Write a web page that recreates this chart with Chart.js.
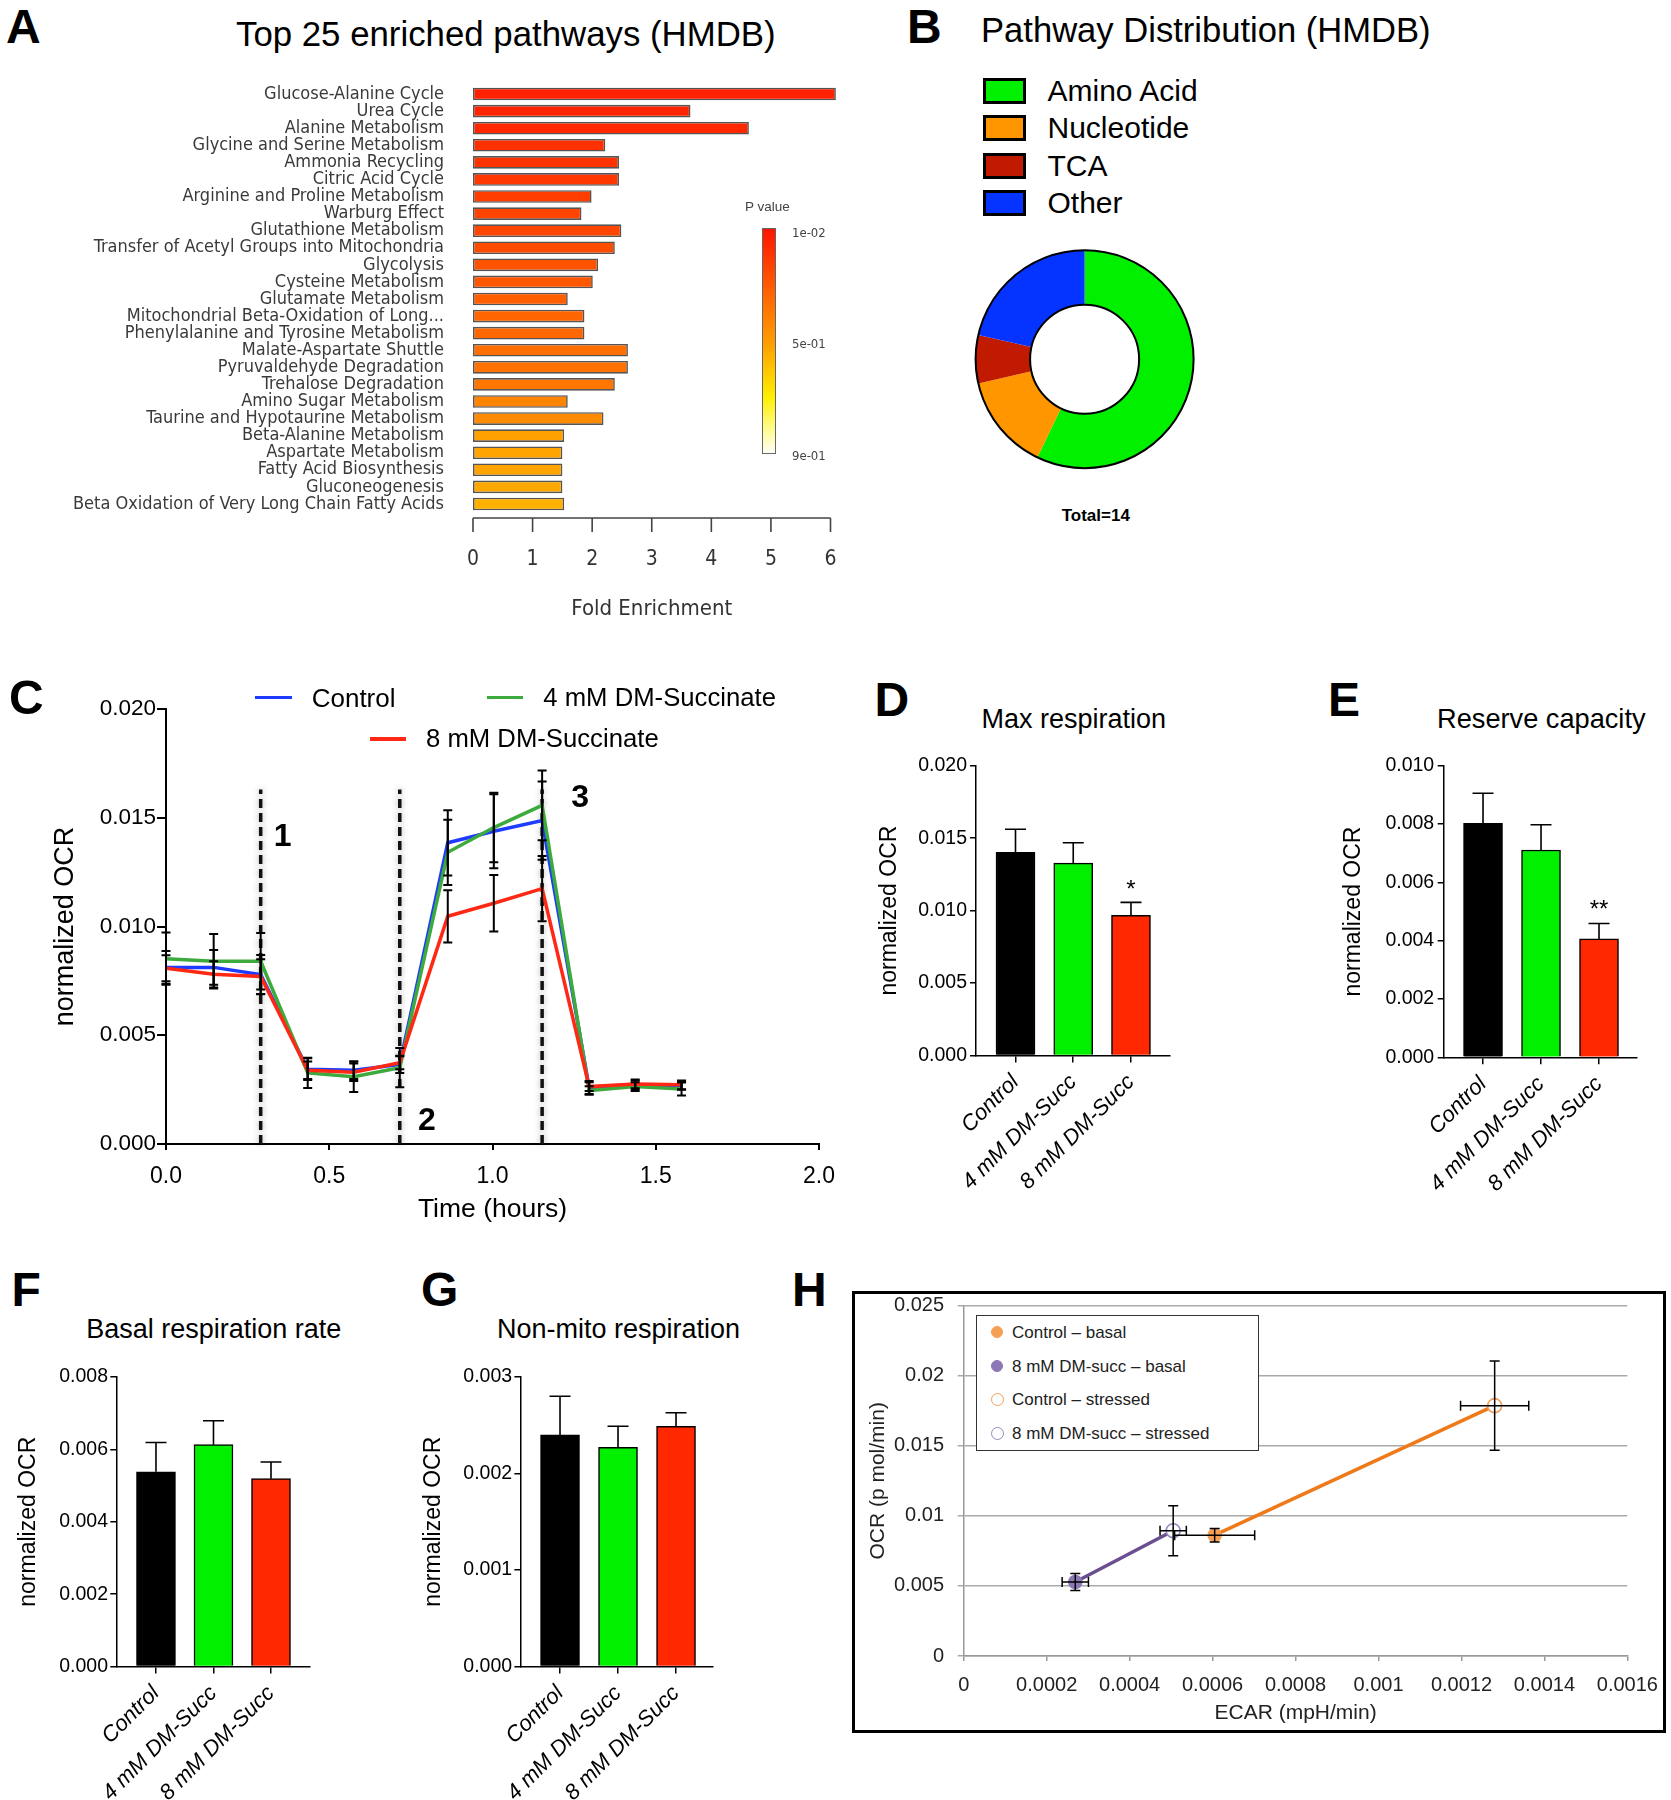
<!DOCTYPE html>
<html>
<head>
<meta charset="utf-8">
<script src="https://cdn.jsdelivr.net/npm/chart.js@4.4.1/dist/chart.umd.min.js"></script>
<style>
  html, body { margin: 0; padding: 0; background: #fff; }
  #page { position: relative; width: 1671px; height: 1800px; overflow: hidden; font-family: 'Liberation Sans', Arial, sans-serif; color: #000; }
  #page canvas { position: absolute; }
  .txt { position: absolute; white-space: nowrap; line-height: 1; }
</style>
</head>
<body>
<div id="page">
  <canvas id="chartA" width="860" height="570" style="left:0;top:60px"></canvas>
  <canvas id="chartB" width="250" height="250" style="left:960px;top:235px"></canvas>
  <canvas id="chartC" width="850" height="560" style="left:0;top:680px"></canvas>
  <canvas id="chartD" width="330" height="490" style="left:870px;top:740px"></canvas>
  <canvas id="chartE" width="333" height="490" style="left:1338px;top:740px"></canvas>
  <canvas id="chartF" width="350" height="450" style="left:0;top:1350px"></canvas>
  <canvas id="chartG" width="340" height="450" style="left:400px;top:1350px"></canvas>
  <div id="boxH" style="position:absolute;left:852px;top:1291px;width:814px;height:442px;border:3px solid #000;box-sizing:border-box"></div>
  <canvas id="chartH" width="808" height="436" style="left:855px;top:1294px"></canvas>
</div>
<script>
// ---- panel A: top 25 pathways ----
const pathwayNames = [
  'Glucose-Alanine Cycle', 'Urea Cycle', 'Alanine Metabolism', 'Glycine and Serine Metabolism',
  'Ammonia Recycling', 'Citric Acid Cycle', 'Arginine and Proline Metabolism', 'Warburg Effect',
  'Glutathione Metabolism', 'Transfer of Acetyl Groups into Mitochondria', 'Glycolysis',
  'Cysteine Metabolism', 'Glutamate Metabolism', 'Mitochondrial Beta-Oxidation of Long...',
  'Phenylalanine and Tyrosine Metabolism', 'Malate-Aspartate Shuttle', 'Pyruvaldehyde Degradation',
  'Trehalose Degradation', 'Amino Sugar Metabolism', 'Taurine and Hypotaurine Metabolism',
  'Beta-Alanine Metabolism', 'Aspartate Metabolism', 'Fatty Acid Biosynthesis', 'Gluconeogenesis',
  'Beta Oxidation of Very Long Chain Fatty Acids'
];
const foldEnrichment = [6.09, 3.65, 4.63, 2.22, 2.45, 2.45, 1.99, 1.82, 2.49, 2.38, 2.10, 2.01, 1.59,
  1.87, 1.87, 2.60, 2.60, 2.38, 1.59, 2.19, 1.53, 1.50, 1.50, 1.50, 1.53];
const pathwayPValues = [0.05, 0.06, 0.07, 0.10, 0.11, 0.12, 0.14, 0.16, 0.17, 0.19, 0.21, 0.22, 0.25,
  0.27, 0.28, 0.30, 0.31, 0.33, 0.38, 0.40, 0.47, 0.48, 0.48, 0.49, 0.51];
const foldTicks = [0, 1, 2, 3, 4, 5, 6];
const pValueTickLabels = ['1e-02', '5e-01', '9e-01'];

// ---- panel B: pathway classes ----
const classNames = ['Amino Acid', 'Nucleotide', 'TCA', 'Other'];
const classCounts = [8, 2, 1, 3];

// ---- panel C: OCR time course ----
const timeHours = [0, 0.146, 0.29, 0.434, 0.575, 0.716, 0.863, 1.004, 1.152, 1.296, 1.437, 1.579];
const ocrControl = [0.00812, 0.00812, 0.00779, 0.00344, 0.00339, 0.00366, 0.01385, 0.01438, 0.01487, 0.00260, 0.00272, 0.00269];
const ocrControlErr = [0.00075, 0.0008, 0.0009, 0.0005, 0.0004, 0.0004, 0.0015, 0.0017, 0.0018, 0.0003, 0.0002, 0.0002];
const ocr4mM = [0.00852, 0.00840, 0.00840, 0.00327, 0.00309, 0.00351, 0.01341, 0.01455, 0.01557, 0.00246, 0.00264, 0.00253];
const ocr4mMErr = [0.0012, 0.00125, 0.0013, 0.0007, 0.0007, 0.0009, 0.0015, 0.0016, 0.0016, 0.0002, 0.0002, 0.0003];
const ocr8mM = [0.00808, 0.00780, 0.00770, 0.00339, 0.00330, 0.00374, 0.01047, 0.01107, 0.01174, 0.00264, 0.00276, 0.00272];
const ocr8mMErr = [0.0006, 0.0006, 0.0008, 0.0004, 0.0004, 0.0003, 0.0012, 0.0013, 0.0015, 0.0002, 0.0002, 0.0002];
const injectionTimes = [0.29, 0.716, 1.152];
const injectionLabels = ['1', '2', '3'];

// ---- panels D-G: summary bars ----
const groupLabels = ['Control', '4 mM DM-Succ', '8 mM DM-Succ'];
const maxResp = [0.01402, 0.01328, 0.00967];
const maxRespErr = [0.0016, 0.00141, 0.0009];
const reserveCap = [0.00803, 0.00711, 0.00406];
const reserveCapErr = [0.00103, 0.00087, 0.00053];
const basalResp = [0.00538, 0.00613, 0.00519];
const basalRespErr = [0.00081, 0.00066, 0.00046];
const nonMito = [0.00240, 0.00227, 0.00249];
const nonMitoErr = [0.0004, 0.00022, 0.00014];
const maxRespSig = ['', '', '*'];
const reserveCapSig = ['', '', '**'];

// ---- panel H: OCR vs ECAR ----
const energyLabels = ['Control \u2013 basal', '8 mM DM-succ \u2013 basal', 'Control \u2013 stressed', '8 mM DM-succ \u2013 stressed'];
const ecarValues = [0.000605, 0.000269, 0.00128, 0.000505];
const ecarErr = [0.0000965, 0.0000317, 0.0000822, 0.0000317];
const ocrValues = [0.00862, 0.00528, 0.01786, 0.00894];
const ocrErr = [0.00048, 0.0006, 0.00318, 0.00178];

// ---------------------------------------------------------------
Chart.defaults.font.family = "'Liberation Sans', Arial, sans-serif";
Chart.defaults.color = '#000';
const condFont = "'DejaVu Sans Condensed', 'Liberation Sans', sans-serif";
const page = document.getElementById('page');

// fixed axis sizes, so every plot area lands where the original one is
function zeroPad(s) { s.paddingTop = 0; s.paddingBottom = 0; s.paddingLeft = 0; s.paddingRight = 0; }
const fixW = w => s => { s.width = w; zeroPad(s); };
const fixH = h => s => { s.height = h; zeroPad(s); };

function addText(str, x, y, style, anchor) {
  const d = document.createElement('div');
  d.className = 'txt';
  d.textContent = str;
  d.style.left = x + 'px';
  d.style.top = y + 'px';
  Object.assign(d.style, style || {});
  d.style.transform = anchor === 'l' ? 'translate(0,-50%)' : 'translate(-50%,-50%)';
  page.appendChild(d);
  return d;
}

function addBox(x, y, w, h, style) {
  const d = document.createElement('div');
  d.style.position = 'absolute';
  d.style.left = x + 'px';
  d.style.top = y + 'px';
  d.style.width = w + 'px';
  d.style.height = h + 'px';
  d.style.boxSizing = 'border-box';
  Object.assign(d.style, style || {});
  page.appendChild(d);
  return d;
}

// heat colour scale used by panel A (p value -> colour)
const heatStops = [[0, [255, 20, 0]], [0.25, [255, 90, 0]], [0.5, [255, 155, 0]], [0.75, [255, 238, 0]], [0.88, [255, 250, 130]], [1, [255, 255, 245]]];
function heatColor(p) {
  const t = Math.min(1, Math.max(0, (p - 0.01) / 0.89));
  for (let i = 1; i < heatStops.length; i++) {
    if (t <= heatStops[i][0]) {
      const [t0, c0] = heatStops[i - 1];
      const [t1, c1] = heatStops[i];
      const f = (t - t0) / (t1 - t0);
      return 'rgb(' + c0.map((c, k) => Math.round(c + (c1[k] - c) * f)).join(',') + ')';
    }
  }
  return 'rgb(255,255,245)';
}

// error bars (and significance stars) drawn through the chart scales
const errorBarPlugin = {
  id: 'errorBars',
  afterDatasetsDraw(chart) {
    const ctx = chart.ctx;
    chart.data.datasets.forEach((ds, di) => {
      const eb = ds.errorBars;
      if (!eb) return;
      const meta = chart.getDatasetMeta(di);
      const xs = chart.scales[meta.xAxisID];
      const ys = chart.scales[meta.yAxisID];
      const cap = eb.cap || 10;
      ctx.save();
      ctx.strokeStyle = eb.color || '#000';
      ctx.lineWidth = eb.width || 1.5;
      meta.data.forEach((el, i) => {
        const raw = ds.data[i];
        const px = el.x;
        const py = ys.getPixelForValue(raw.y);
        ctx.beginPath();
        if (eb.y) {
          const e = eb.y[i];
          const top = ys.getPixelForValue(raw.y + e);
          const bot = eb.upOnly ? py : ys.getPixelForValue(raw.y - e);
          ctx.moveTo(px, top); ctx.lineTo(px, bot);
          ctx.moveTo(px - cap / 2, top); ctx.lineTo(px + cap / 2, top);
          if (!eb.upOnly) { ctx.moveTo(px - cap / 2, bot); ctx.lineTo(px + cap / 2, bot); }
          if (ds.sigMarks && ds.sigMarks[i]) {
            ctx.fillStyle = '#000';
            ctx.font = "24px 'Liberation Sans', Arial, sans-serif";
            ctx.textAlign = 'center';
            ctx.textBaseline = 'alphabetic';
            ctx.fillText(ds.sigMarks[i], px, top - eb.sigGap);
          }
        }
        if (eb.x) {
          const e = eb.x[i];
          const l = xs.getPixelForValue(raw.x - e);
          const r = xs.getPixelForValue(raw.x + e);
          ctx.moveTo(l, py); ctx.lineTo(r, py);
          ctx.moveTo(l, py - cap / 2); ctx.lineTo(l, py + cap / 2);
          ctx.moveTo(r, py - cap / 2); ctx.lineTo(r, py + cap / 2);
        }
        ctx.stroke();
      });
      ctx.restore();
    });
  }
};

// panel A: axis line drawn a little below the bars, like the original
const offsetAxisPlugin = {
  id: 'offsetAxis',
  afterDraw(chart, args, opts) {
    const xs = chart.scales.x;
    const ctx = chart.ctx;
    const y0 = chart.chartArea.bottom + opts.gap;
    ctx.save();
    ctx.strokeStyle = '#444';
    ctx.lineWidth = 1.6;
    ctx.beginPath();
    ctx.moveTo(xs.getPixelForValue(xs.min), y0);
    ctx.lineTo(xs.getPixelForValue(xs.max), y0);
    xs.ticks.forEach(t => {
      const px = xs.getPixelForValue(t.value);
      ctx.moveTo(px, y0);
      ctx.lineTo(px, y0 + opts.tick);
    });
    ctx.stroke();
    ctx.restore();
  }
};

// panel B: black outline of the ring
const ringOutlinePlugin = {
  id: 'ringOutline',
  afterDatasetsDraw(chart) {
    const arc = chart.getDatasetMeta(0).data[0];
    if (!arc) return;
    const p = arc.getProps(['x', 'y', 'outerRadius', 'innerRadius'], true);
    const ctx = chart.ctx;
    ctx.save();
    ctx.strokeStyle = '#000';
    ctx.lineWidth = 2;
    ctx.beginPath(); ctx.arc(p.x, p.y, p.outerRadius, 0, Math.PI * 2); ctx.stroke();
    ctx.beginPath(); ctx.arc(p.x, p.y, p.innerRadius, 0, Math.PI * 2); ctx.stroke();
    ctx.restore();
  }
};

// panel C: injection markers
const injectionPlugin = {
  id: 'injections',
  beforeDatasetsDraw(chart, args, opts) {
    const xs = chart.scales.x, ys = chart.scales.y, ctx = chart.ctx;
    ctx.save();
    opts.times.forEach((t, i) => {
      const px = xs.getPixelForValue(t);
      ctx.save();
      ctx.shadowColor = 'rgba(0,0,0,0.35)';
      ctx.shadowBlur = 6;
      ctx.strokeStyle = '#111';
      ctx.lineWidth = 3.5;
      ctx.setLineDash([9, 5]);
      ctx.beginPath();
      ctx.moveTo(px, ys.getPixelForValue(0));
      ctx.lineTo(px, ys.getPixelForValue(opts.top));
      ctx.stroke();
      ctx.restore();
      ctx.fillStyle = '#000';
      ctx.font = "bold 32px 'Liberation Sans', Arial, sans-serif";
      ctx.textAlign = 'center';
      ctx.textBaseline = 'middle';
      ctx.fillText(opts.labels[i], px + opts.dx[i], ys.getPixelForValue(opts.labelY[i]));
    });
    ctx.restore();
  }
};

const baseOpts = { responsive: false, animation: false, devicePixelRatio: 1, events: [] };

// ================= Panel A =================
new Chart(document.getElementById('chartA'), {
  type: 'bar',
  data: {
    labels: pathwayNames,
    datasets: [{
      data: foldEnrichment,
      backgroundColor: pathwayPValues.map(heatColor),
      borderColor: '#555',
      borderWidth: 1.6,
      borderSkipped: false,
      barPercentage: 0.74,
      categoryPercentage: 1,
      clip: false
    }]
  },
  options: Object.assign({}, baseOpts, {
    indexAxis: 'y',
    layout: { padding: { left: 0, top: 25.5, right: 29.5, bottom: 0 } },
    plugins: { legend: { display: false }, tooltip: { enabled: false }, offsetAxis: { gap: 5.5, tick: 14 } },
    scales: {
      x: {
        min: 0, max: 6,
        afterBuildTicks: s => { s.ticks = foldTicks.map(v => ({ value: v })); },
        afterFit: fixH(117.5),
        ticks: { padding: 34.5, color: '#333', font: { family: condFont, size: 21 } },
        grid: { display: false, drawTicks: false },
        border: { display: false },
        title: { display: true, text: 'Fold Enrichment', color: '#333', font: { family: condFont, size: 22 }, padding: { top: 0, bottom: 7.8 } }
      },
      y: {
        afterFit: fixW(473),
        ticks: { autoSkip: false, padding: 29, color: '#3a3a3a', font: { family: condFont, size: 18 } },
        grid: { display: false, drawTicks: false },
        border: { display: false }
      }
    }
  }),
  plugins: [offsetAxisPlugin]
});

// ================= Panel B =================
const classColors = ['#00f000', '#ff9600', '#c01a00', '#0533ff'];
new Chart(document.getElementById('chartB'), {
  type: 'doughnut',
  data: { labels: classNames, datasets: [{ data: classCounts, backgroundColor: classColors, borderWidth: 0 }] },
  options: Object.assign({}, baseOpts, {
    cutout: '50%',
    layout: { padding: { left: 15.6, top: 15.2, right: 16.4, bottom: 16.8 } },
    plugins: { legend: { display: false }, tooltip: { enabled: false } }
  }),
  plugins: [ringOutlinePlugin]
});

// ================= Panel C =================
const pts = arr => timeHours.map((t, i) => ({ x: t, y: arr[i] }));
new Chart(document.getElementById('chartC'), {
  type: 'line',
  data: {
    datasets: [
      { label: '8 mM DM-Succinate', data: pts(ocr8mM), borderColor: '#ff2814', order: 0, errorBars: { y: ocr8mMErr, cap: 9, width: 2 } },
      { label: '4 mM DM-Succinate', data: pts(ocr4mM), borderColor: '#3caa3c', order: 1, errorBars: { y: ocr4mMErr, cap: 9, width: 2 } },
      { label: 'Control', data: pts(ocrControl), borderColor: '#1e3cff', order: 2, errorBars: { y: ocrControlErr, cap: 9, width: 2 } }
    ]
  },
  options: Object.assign({}, baseOpts, {
    layout: { padding: { left: 40, top: 29, right: 31, bottom: 0 } },
    elements: { point: { radius: 0 }, line: { borderWidth: 3.5, tension: 0 } },
    plugins: {
      legend: { display: false }, tooltip: { enabled: false },
      injections: { times: injectionTimes, labels: injectionLabels, top: 0.0163, dx: [22, 27, 38], labelY: [0.0141, 0.00107, 0.0159] }
    },
    scales: {
      x: {
        type: 'linear', min: 0, max: 2,
        afterFit: fixH(96),
        ticks: { stepSize: 0.5, padding: 13, font: { size: 23 }, callback: v => v.toFixed(1) },
        grid: { drawOnChartArea: false, tickLength: 6, color: '#000', lineWidth: 2 },
        border: { color: '#000', width: 2 },
        title: { display: true, text: 'Time (hours)', font: { size: 26.5 }, padding: { top: 0, bottom: 14.5 } }
      },
      y: {
        min: 0, max: 0.02,
        afterFit: fixW(126),
        ticks: { stepSize: 0.005, padding: 1, font: { size: 22.5 }, callback: v => v.toFixed(3) },
        grid: { drawOnChartArea: false, tickLength: 9, color: '#000', lineWidth: 2 },
        border: { color: '#000', width: 2 },
        title: { display: true, text: 'normalized OCR', font: { size: 27 }, padding: { top: 9, bottom: 0 } }
      }
    }
  }),
  plugins: [injectionPlugin, errorBarPlugin]
});

// ================= Panels D-G =================
const groupColors = ['#000000', '#00f000', '#ff2800'];
function summaryBars(id, values, errs, sig, yMax, yStep, g) {
  return new Chart(document.getElementById(id), {
    type: 'bar',
    data: {
      datasets: [{
        data: values.map((v, i) => ({ x: i, y: v })),
        backgroundColor: groupColors,
        borderColor: '#000',
        borderWidth: 1.5,
        barThickness: 39,
        errorBars: { y: errs, upOnly: true, cap: 21, width: 1.6, sigGap: g.sigGap },
        sigMarks: sig
      }]
    },
    options: Object.assign({}, baseOpts, {
      layout: { padding: { left: 0, top: g.padT, right: g.padR, bottom: 0 } },
      plugins: { legend: { display: false }, tooltip: { enabled: false } },
      scales: {
        x: {
          type: 'linear', min: g.xMin, max: g.xMax, offset: false,
          afterBuildTicks: s => { s.ticks = groupLabels.map((_, i) => ({ value: i })); },
          afterFit: fixH(g.xHeight),
          ticks: { autoSkip: false, minRotation: 45, maxRotation: 45, padding: 7, font: { size: 22, style: 'italic' }, callback: (v, i) => groupLabels[i] },
          grid: { drawOnChartArea: false, offset: false, tickLength: 7, color: '#000', lineWidth: 1.5 },
          border: { color: '#000', width: 1.5 }
        },
        y: {
          min: 0, max: yMax,
          afterFit: fixW(g.yWidth),
          ticks: { stepSize: yStep, padding: g.tickPad, font: { size: 19.5 }, callback: v => v.toFixed(3) },
          grid: { drawOnChartArea: false, tickLength: 6, color: '#000', lineWidth: 1.5 },
          border: { color: '#000', width: 1.5 },
          title: { display: true, text: 'normalized OCR', font: { size: 23 }, padding: { top: g.titlePad, bottom: 0 } }
        }
      }
    }),
    plugins: [errorBarPlugin]
  });
}

summaryBars('chartD', maxResp, maxRespErr, maxRespSig, 0.02, 0.005,
  { padT: 25.8, padR: 30.5, yWidth: 106, xHeight: 174.6, xMin: -0.684, xMax: 2.667, titlePad: 5.7, tickPad: 3, sigGap: 5 });
summaryBars('chartE', reserveCap, reserveCapErr, reserveCapSig, 0.01, 0.002,
  { padT: 25.8, padR: 34, yWidth: 105.7, xHeight: 172.7, xMin: -0.678, xMax: 2.655, titlePad: 2.2, tickPad: 3.5, sigGap: 7 });
summaryBars('chartF', basalResp, basalRespErr, null, 0.008, 0.002,
  { padT: 27, padR: 40.3, yWidth: 116.3, xHeight: 133.5, xMin: -0.69, xMax: 2.673, titlePad: 14.9, tickPad: 2.3, sigGap: 5 });
summaryBars('chartG', nonMito, nonMitoErr, null, 0.003, 0.001,
  { padT: 27, padR: 27.2, yWidth: 120.4, xHeight: 133.5, xMin: -0.683, xMax: 2.634, titlePad: 20.2, tickPad: 2.3, sigGap: 5 });

// ================= Panel H =================
const hPoint = i => ({ x: ecarValues[i], y: ocrValues[i] });
const hFill = ['#f5a055', '#8c78b4', '#ffffff', '#ffffff'];
const hEdge = ['#f5a055', '#8c78b4', '#f0a060', '#9a88c0'];
const hDatasets = [
  { data: [hPoint(0), hPoint(2)], showLine: true, borderColor: '#ee7a1a', borderWidth: 3.5, pointRadius: 0, order: 5 },
  { data: [hPoint(1), hPoint(3)], showLine: true, borderColor: '#6a4e92', borderWidth: 3.5, pointRadius: 0, order: 5 }
];
energyLabels.forEach((lab, i) => {
  hDatasets.push({
    label: lab,
    data: [hPoint(i)],
    pointRadius: i < 2 ? 6.5 : 7,
    pointBackgroundColor: hFill[i],
    pointBorderColor: hEdge[i],
    pointBorderWidth: 1.6,
    order: 1,
    errorBars: { x: [ecarErr[i]], y: [ocrErr[i]], cap: 10, width: 1.5 }
  });
});
new Chart(document.getElementById('chartH'), {
  type: 'scatter',
  data: { datasets: hDatasets },
  options: Object.assign({}, baseOpts, {
    layout: { padding: { left: 0, top: 11.6, right: 35.6, bottom: 0 } },
    plugins: { legend: { display: false }, tooltip: { enabled: false } },
    scales: {
      x: {
        type: 'linear', min: 0, max: 0.0016,
        afterFit: fixH(74),
        ticks: { stepSize: 0.0002, padding: 12, color: '#222', font: { size: 20 }, callback: v => String(+v.toFixed(4)) },
        grid: { drawOnChartArea: false, tickLength: 5, color: '#999', lineWidth: 1.5 },
        border: { color: '#999', width: 1.5 },
        title: { display: true, text: 'ECAR (mpH/min)', color: '#222', font: { size: 21 }, padding: { top: 0, bottom: 4.4 } }
      },
      y: {
        min: 0, max: 0.025,
        afterFit: fixW(108.7),
        ticks: { stepSize: 0.005, padding: 13.7, color: '#222', font: { size: 20 }, callback: v => String(+v.toFixed(3)) },
        grid: { tickLength: 6, color: '#aaa', lineWidth: 1.5 },
        border: { color: '#999', width: 1.5 },
        title: { display: true, text: 'OCR (p mol/min)', color: '#222', font: { size: 21 }, padding: { top: 10.4, bottom: 0 } }
      }
    }
  }),
  plugins: [errorBarPlugin]
});

// ================= text, legends =================
const letterStyle = { fontWeight: 'bold', fontSize: '48px' };
[['A', 6, 27.4], ['B', 907, 27.4], ['C', 9, 698], ['D', 874.5, 700], ['E', 1328, 700],
 ['F', 11.5, 1290], ['G', 421, 1290], ['H', 792, 1290]].forEach(([s, x, y]) => addText(s, x, y, letterStyle, 'l'));

// A
addText('Top 25 enriched pathways (HMDB)', 505.8, 33.8, { fontSize: '34.8px' });
addText('P value', 745, 206.7, { fontSize: '13.5px', color: '#444' }, 'l');
const gradStops = heatStops.map(([t, c]) => 'rgb(' + c.join(',') + ') ' + (t * 100) + '%').join(',');
addBox(761.7, 227.7, 14, 226.6, { border: '1px solid #666', background: 'linear-gradient(to bottom,' + gradStops + ')' });
[231.7, 343.3, 455].forEach((y, i) => addText(pValueTickLabels[i], 792, y, { fontSize: '13px', color: '#444', fontFamily: condFont }, 'l'));

// B
addText('Pathway Distribution (HMDB)', 981, 30, { fontSize: '34.6px' }, 'l');
[78, 115.4, 153.4, 190].forEach((y, i) => {
  addBox(983, y, 42.6, 25.5, { border: '3px solid #000', background: classColors[i] });
  addText(classNames[i], 1047.5, y + 13, { fontSize: '30px' }, 'l');
});
addText('Total=' + classCounts.reduce((a, b) => a + b, 0), 1095.8, 515, { fontSize: '17px', fontWeight: 'bold' });

// C legend
const cLegend = [['Control', '#1e3cff', 255, 311.7, 697.7, 26], ['4 mM DM-Succinate', '#3caa3c', 486.6, 543.3, 697.7, 25.7], ['8 mM DM-Succinate', '#ff2814', 369.5, 426, 739, 25.7]];
cLegend.forEach(([s, col, lx, tx, y, fs]) => {
  addBox(lx, y - 1.75, 36.5, 3.5, { background: col });
  addText(s, tx, y, { fontSize: fs + 'px' }, 'l');
});

// D-G titles
addText('Max respiration', 1073.7, 718.8, { fontSize: '27px' });
addText('Reserve capacity', 1541.3, 718.8, { fontSize: '27.2px' });
addText('Basal respiration rate', 213.8, 1329, { fontSize: '27px' });
addText('Non-mito respiration', 618.6, 1329, { fontSize: '27px' });

// H legend
addBox(976, 1315, 283, 136, { border: '1.5px solid #333', background: '#fff' });
[1332, 1365.5, 1399, 1433].forEach((y, i) => {
  const r = i < 2 ? 6 : 6.5;
  addBox(997 - r, y - r, 2 * r, 2 * r, { borderRadius: '50%', background: hFill[i], border: '1.5px solid ' + hEdge[i] });
  addText(energyLabels[i], 1012, y, { fontSize: '17px', color: '#222' }, 'l');
});
</script>
</body>
</html>
